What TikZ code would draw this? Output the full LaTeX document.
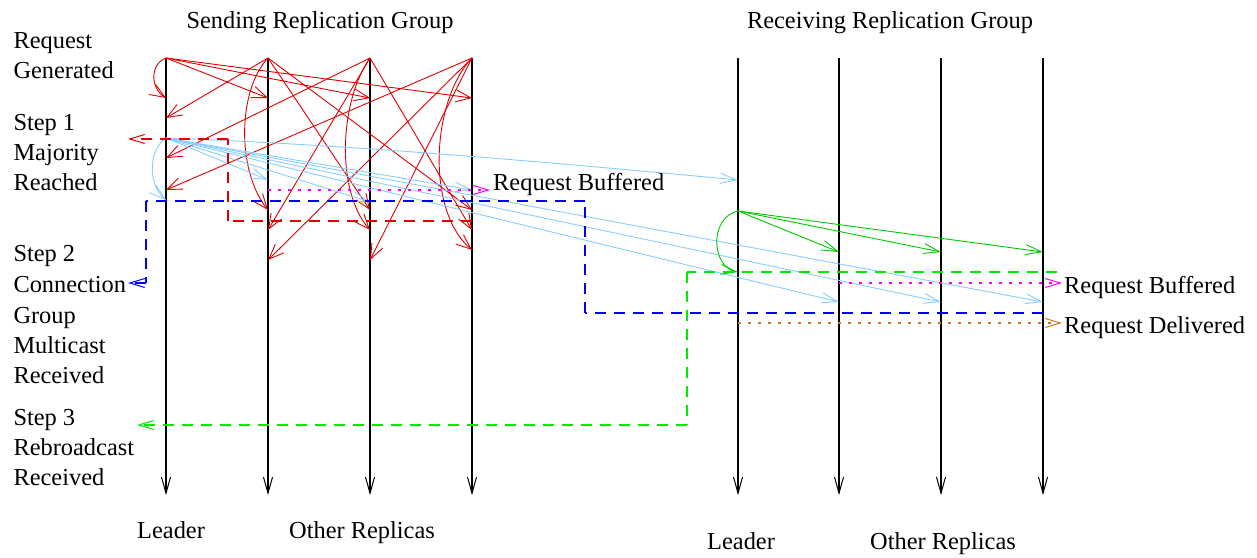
\documentclass[tikz,border=0pt]{standalone}
\usepackage{fontspec}
\setmainfont{Liberation Serif}
\usetikzlibrary{arrows.meta}
\definecolor{fred}{RGB}{225,0,0}
\definecolor{fblue}{RGB}{0,0,255}
\definecolor{flblue}{RGB}{135,206,255}
\definecolor{fgreen}{RGB}{0,200,0}
\definecolor{fgreenl}{RGB}{0,235,0}
\definecolor{fmag}{RGB}{255,0,255}
\definecolor{forange}{RGB}{205,120,40}
\begin{document}
\begin{tikzpicture}[x=1pt,y=-1pt,
  txt/.style={inner sep=0pt, font=\fontsize{24.4}{29}\selectfont, anchor=base west},
  tline/.style={color=black, line width=1.1pt, -{Straight Barb[length=16pt,width=9pt,line width=1pt]}},
  rmsg/.style={color=fred, line width=0.9pt, -{Straight Barb[length=15pt,width=12pt,line width=0.9pt]}},
  bmsg/.style={color=flblue, line width=0.9pt, -{Straight Barb[length=16pt,width=10pt,line width=0.9pt]}},
  gmsg/.style={color=fgreen, line width=0.9pt, -{Straight Barb[length=16pt,width=10pt,line width=0.9pt]}},
  dsh/.style={line width=1.25pt, dash pattern=on 11pt off 8pt},
  dshend/.style={line width=1.25pt, dash pattern=on 11pt off 8pt, -{Straight Barb[length=15pt,width=9pt,line width=1pt]}},
  dotl/.style={line width=2.5pt, dash pattern=on 2.5pt off 7.5pt, -{Straight Barb[length=15pt,width=9pt,line width=1pt]}},
]
\useasboundingbox (0,0) rectangle (1257,557);

% ---------- timelines ----------
\coordinate (s1t) at (166,58);  \coordinate (s1b) at (166,495);
\coordinate (s2t) at (268,58);  \coordinate (s2b) at (268,495);
\coordinate (s3t) at (370,58);  \coordinate (s3b) at (370,495);
\coordinate (s4t) at (472,58);  \coordinate (s4b) at (472,495);
\coordinate (r1t) at (738,58);  \coordinate (r1b) at (738,495);
\coordinate (r2t) at (839,58);  \coordinate (r2b) at (839,495);
\coordinate (r3t) at (941,58);  \coordinate (r3b) at (941,495);
\coordinate (r4t) at (1043,58); \coordinate (r4b) at (1043,495);
\foreach \n in {s1,s2,s3,s4,r1,r2,r3,r4} \draw[tline] (\n t) -- (\n b);

% ---------- red request messages ----------
\coordinate (a11) at (166,98);  \coordinate (a12) at (268,98);
\coordinate (a13) at (370,98);  \coordinate (a14) at (472,98);
\coordinate (a21) at (166,118); \coordinate (a22) at (268,210);
\coordinate (a23) at (370,210); \coordinate (a24) at (472,210);
\coordinate (a31) at (166,158); \coordinate (a32) at (268,230);
\coordinate (a33) at (370,230); \coordinate (a34) at (472,230);
\coordinate (a41) at (166,190); \coordinate (a42) at (268,260);
\coordinate (a43) at (370,260); \coordinate (a44) at (472,250);

\draw[rmsg] (s1t) .. controls (150,64) and (150,88) .. (a11);
\draw[rmsg] (s1t) -- (a12);
\draw[rmsg] (s1t) -- (a13);
\draw[rmsg] (s1t) -- (a14);

\draw[rmsg] (s2t) -- (a21);
\draw[rmsg] (s2t) .. controls (238,90) and (236,170) .. (a22);
\draw[rmsg] (s2t) -- (a23);
\draw[rmsg] (s2t) -- (a24);

\draw[rmsg] (s3t) -- (a31);
\draw[rmsg] (s3t) -- (a32);
\draw[rmsg] (s3t) .. controls (340,100) and (335,190) .. (a33);
\draw[rmsg] (s3t) -- (a34);

\draw[rmsg] (s4t) -- (a41);
\draw[rmsg] (s4t) -- (a42);
\draw[rmsg] (s4t) -- (a43);
\draw[rmsg] (s4t) .. controls (432,100) and (425,210) .. (a44);

% ---------- light blue majority messages ----------
\coordinate (b0) at (166,138);
\coordinate (b1) at (166,200);
\coordinate (b2) at (268,180);
\coordinate (b3) at (370,202);
\coordinate (b4) at (472,190);
\coordinate (br1) at (738,180);
\coordinate (br2) at (839,302);
\coordinate (br3) at (941,302);
\coordinate (br4) at (1043,302);
\draw[bmsg] (b0) .. controls (148,150) and (148,185) .. (b1);
\draw[bmsg] (b0) -- (b2);
\draw[bmsg] (b0) -- (b3);
\draw[bmsg] (b0) -- (b4);
\draw[bmsg] (b0) .. controls (356,145) and (547,162) .. (br1);
\draw[bmsg] (b0) -- (br2);
\draw[bmsg] (b0) -- (br3);
\draw[bmsg] (b0) -- (br4);

% ---------- green rebroadcast ----------
\coordinate (g0) at (738,211);
\coordinate (g1) at (738,272);
\coordinate (g2) at (839,252);
\coordinate (g3) at (941,252);
\coordinate (g4) at (1043,252);
\draw[gmsg] (g0) .. controls (708,218) and (712,268) .. (g1);
\draw[gmsg] (g0) -- (g2);
\draw[gmsg] (g0) -- (g3);
\draw[gmsg] (g0) -- (g4);

% ---------- dashed step paths ----------
\coordinate (rd0) at (472,221); \coordinate (rd1) at (228,221);
\coordinate (rd2) at (228,139); \coordinate (rd3) at (128,139);
\draw[dsh, color=fred] (rd0) -- (rd1);
\draw[dsh, color=fred] (rd1) -- (rd2);
\draw[dshend, color=fred] (rd2) -- (rd3);

\coordinate (bd0) at (1043,313); \coordinate (bd1) at (585,313);
\coordinate (bd2) at (585,201);  \coordinate (bd3) at (146,201);
\coordinate (bd4) at (146,283);  \coordinate (bd5) at (128,283);
\draw[dsh, color=fblue] (bd0) -- (bd1);
\draw[dsh, color=fblue] (bd1) -- (bd2);
\draw[dsh, color=fblue] (bd2) -- (bd3);
\draw[dsh, color=fblue] (bd3) -- (bd4);
\draw[dshend, color=fblue] (bd4) -- (bd5);

\coordinate (gd0) at (1057,272); \coordinate (gd1) at (687,272);
\coordinate (gd2) at (687,425);  \coordinate (gd3) at (137,425);
\draw[dsh, color=fgreenl] (gd0) -- (gd1);
\draw[dsh, color=fgreenl] (gd1) -- (gd2);
\draw[dshend, color=fgreenl] (gd2) -- (gd3);

% ---------- dotted buffered / delivered ----------
\coordinate (m0) at (268,190); \coordinate (m1) at (490,190);
\draw[dotl, color=fmag] (m0) -- (m1);
\coordinate (m2) at (839,283); \coordinate (m3) at (1062,283);
\draw[dotl, color=fmag] (m2) -- (m3);
\coordinate (o0) at (738,323); \coordinate (o1) at (1062,323);
\draw[dotl, color=forange] (o0) -- (o1);

% ---------- texts ----------
\node[txt, anchor=base] (tsend) at (320,28) {Sending Replication Group};
\node[txt, anchor=base] (trecv) at (890,28) {Receiving Replication Group};

\node[txt] (l1) at (13.3,48.3) {Request};
\node[txt] (l2) at (13.3,78.5) {Generated};
\node[txt] (l3) at (13.3,130) {Step 1};
\node[txt] (l4) at (13.3,160.3) {Majority};
\node[txt] (l5) at (13.3,190.5) {Reached};
\node[txt] (l6) at (13.3,261.7) {Step 2};
\node[txt] (l7) at (13.3,292.3) {Connection};
\node[txt] (l8) at (13.3,323) {Group};
\node[txt] (l9) at (13.3,353.3) {Multicast};
\node[txt] (l10) at (13.3,383.5) {Received};
\node[txt] (l11) at (13.3,425) {Step 3};
\node[txt] (l12) at (13.3,455) {Rebroadcast};
\node[txt] (l13) at (13.3,485.3) {Received};

\node[txt] (rb1) at (493,190) {Request Buffered};
\node[txt] (rb2) at (1064,293) {Request Buffered};
\node[txt] (rdl) at (1064,333) {Request Delivered};

\node[txt] (sl) at (137,538) {Leader};
\node[txt] (so) at (289,538) {Other Replicas};
\node[txt] (rl) at (707,549) {Leader};
\node[txt] (ro) at (870,549) {Other Replicas};
\end{tikzpicture}
\end{document}
